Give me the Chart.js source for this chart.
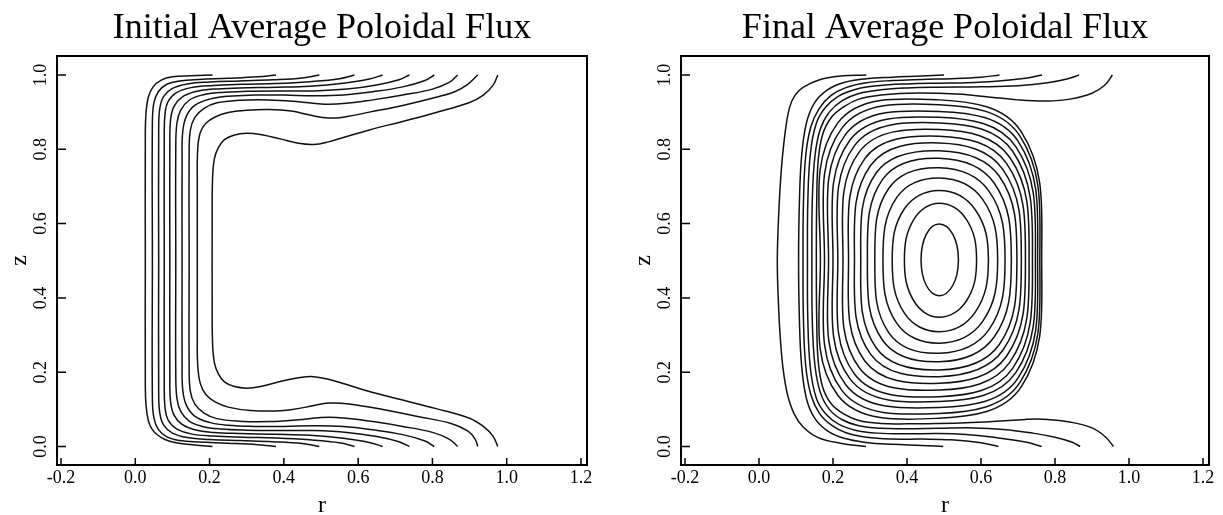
<!DOCTYPE html>
<html>
<head>
<meta charset="utf-8">
<script src="https://cdn.jsdelivr.net/npm/chart.js@4"></script>
<style>
  html, body { margin: 0; padding: 0; background: #fff; }
  #wrap { position: relative; width: 1223px; height: 515px; overflow: hidden; }
  canvas { position: absolute; top: 0; }
</style>
</head>
<body>
<div id="wrap">
  <canvas id="initial" width="612" height="515" style="left:0"></canvas>
  <canvas id="final" width="611" height="515" style="left:612px"></canvas>
</div>
<script>
// ---- axis ticks ----
const xTickValues = [-0.2, 0, 0.2, 0.4, 0.6, 0.8, 1.0, 1.2];
const xTickLabels = ['-0.2', '0.0', '0.2', '0.4', '0.6', '0.8', '1.0', '1.2'];
const yTickValues = [0, 0.2, 0.4, 0.6, 0.8, 1.0];
const yTickLabels = ['0.0', '0.2', '0.4', '0.6', '0.8', '1.0'];

// ---- initial flux: open contours, [r, z], from top wall round to bottom wall ----
const ini01 = [[.208,1],[.15,.998],[.10,.995],[.07,.986],[.048,.968],[.035,.94],[.029,.90],[.027,.84],[.027,.5],[.027,.16],[.029,.11],[.035,.07],[.045,.047],[.06,.031],[.08,.019],[.11,.01],[.16,.004],[.208,0]];
const ini02 = [[.379,1],[.33,.995],[.25,.991],[.17,.988],[.12,.984],[.085,.975],[.062,.955],[.05,.925],[.046,.87],[.046,.5],[.046,.13],[.05,.078],[.062,.046],[.085,.026],[.12,.016],[.17,.012],[.25,.009],[.33,.005],[.379,0]];
const ini03 = [[.4955,1],[.45,.992],[.37,.987],[.28,.984],[.20,.981],[.14,.976],[.10,.964],[.076,.942],[.066,.91],[.063,.86],[.063,.5],[.063,.14],[.066,.09],[.076,.058],[.10,.036],[.14,.024],[.20,.019],[.28,.016],[.37,.013],[.45,.008],[.4955,0]];
const ini04 = [[.59,1],[.55,.99],[.47,.982],[.38,.977],[.29,.975],[.21,.972],[.15,.966],[.11,.952],[.088,.928],[.080,.895],[.078,.84],[.078,.5],[.078,.16],[.080,.105],[.088,.072],[.11,.048],[.15,.034],[.21,.028],[.29,.025],[.38,.023],[.47,.018],[.55,.01],[.59,0]];
const ini05 = [[.666,1],[.63,.989],[.56,.978],[.47,.970],[.38,.967],[.28,.965],[.21,.962],[.16,.955],[.125,.940],[.104,.915],[.095,.88],[.093,.82],[.093,.5],[.093,.18],[.095,.12],[.104,.085],[.125,.06],[.16,.045],[.21,.038],[.28,.035],[.38,.033],[.47,.03],[.56,.022],[.63,.011],[.666,0]];
const ini06 = [[.738,1],[.71,.987],[.65,.973],[.57,.962],[.48,.957],[.40,.957],[.30,.956],[.23,.953],[.18,.946],[.145,.932],[.122,.905],[.112,.87],[.109,.80],[.109,.5],[.109,.20],[.112,.13],[.122,.095],[.145,.068],[.18,.054],[.23,.047],[.30,.044],[.40,.043],[.48,.043],[.57,.038],[.65,.027],[.71,.013],[.738,0]];
const ini07 = [[.805,1],[.78,.985],[.72,.968],[.64,.955],[.56,.946],[.48,.944],[.40,.946],[.32,.946],[.25,.943],[.20,.935],[.16,.918],[.138,.89],[.128,.85],[.126,.78],[.126,.5],[.126,.22],[.128,.15],[.138,.11],[.16,.082],[.20,.065],[.25,.057],[.32,.054],[.40,.054],[.48,.056],[.56,.054],[.64,.045],[.72,.032],[.78,.015],[.805,0]];
const ini08 = [[.868,1],[.845,.98],[.80,.962],[.72,.946],[.64,.933],[.56,.923],[.50,.922],[.44,.928],[.36,.933],[.28,.932],[.22,.925],[.185,.91],[.16,.885],[.148,.85],[.145,.78],[.145,.5],[.145,.22],[.148,.15],[.16,.115],[.185,.09],[.22,.075],[.28,.068],[.36,.067],[.44,.072],[.50,.078],[.56,.077],[.64,.067],[.72,.054],[.80,.038],[.845,.02],[.868,0]];
const ini09 = [[.922,1],[.895,.975],[.86,.955],[.81,.94],[.72,.918],[.63,.90],[.57,.888],[.52,.884],[.47,.892],[.42,.903],[.36,.907],[.30,.905],[.25,.899],[.215,.887],[.19,.87],[.175,.845],[.168,.80],[.167,.70],[.167,.5],[.167,.30],[.168,.22],[.175,.17],[.19,.14],[.215,.12],[.25,.106],[.31,.097],[.40,.097],[.46,.106],[.52,.117],[.58,.114],[.67,.099],[.76,.081],[.85,.062],[.895,.042],[.915,.02],[.922,0]];
const ini10 = [[.976,1],[.963,.972],[.937,.946],[.90,.926],[.81,.899],[.72,.875],[.63,.852],[.565,.833],[.52,.82],[.48,.813],[.44,.816],[.39,.828],[.34,.839],[.30,.843],[.265,.838],[.24,.826],[.224,.805],[.213,.775],[.208,.72],[.207,.6],[.207,.4],[.208,.28],[.213,.225],[.224,.195],[.24,.174],[.265,.162],[.30,.157],[.34,.162],[.39,.175],[.44,.185],[.48,.188],[.52,.181],[.565,.168],[.63,.148],[.72,.125],[.81,.102],[.90,.076],[.937,.054],[.963,.028],[.976,0]];

// ---- final flux: open contours reaching the end walls ----
const finOpen1 = [[.29,1],[.22,.997],[.16,.986],[.12,.967],[.097,.945],[.082,.91],[.07,.84],[.06,.74],[.053,.62],[.0495,.5],[.052,.40],[.057,.30],[.065,.21],[.077,.14],[.095,.088],[.12,.052],[.16,.024],[.22,.009],[.289,0]];
const finOpen2 = [[.50,1],[.44,.997],[.36,.994],[.29,.990],[.23,.980],[.185,.960],[.15,.925],[.128,.87],[.115,.78],[.109,.65],[.107,.5],[.109,.35],[.115,.22],[.128,.13],[.15,.077],[.185,.042],[.23,.022],[.29,.011],[.36,.006],[.44,.003],[.498,0]];
const finOpen3 = [[.65,1],[.60,.994],[.52,.990],[.44,.988],[.36,.985],[.29,.979],[.235,.966],[.195,.945],[.163,.91],[.14,.86],[.126,.78],[.120,.65],[.119,.5],[.120,.35],[.126,.22],[.14,.14],[.163,.09],[.195,.058],[.235,.037],[.29,.025],[.36,.02],[.44,.02],[.52,.018],[.60,.01],[.647,0]];
const finOpen4 = [[.765,1],[.72,.991],[.64,.983],[.56,.979],[.485,.978],[.40,.976],[.32,.971],[.26,.961],[.215,.943],[.18,.913],[.155,.87],[.139,.79],[.132,.66],[.131,.5],[.132,.34],[.139,.21],[.155,.13],[.18,.088],[.215,.06],[.26,.044],[.32,.036],[.40,.034],[.485,.035],[.56,.032],[.64,.024],[.72,.012],[.764,0]];
const finOpen5 = [[.865,1],[.835,.99],[.78,.979],[.70,.971],[.60,.968],[.485,.967],[.40,.965],[.33,.960],[.27,.950],[.225,.931],[.19,.90],[.166,.855],[.151,.78],[.144,.66],[.143,.5],[.144,.34],[.151,.22],[.166,.145],[.19,.10],[.225,.072],[.27,.056],[.33,.049],[.40,.048],[.485,.049],[.58,.050],[.66,.046],[.74,.036],[.80,.025],[.845,.012],[.868,0]];
const finOpen6 = [[.955,1],[.935,.973],[.90,.951],[.84,.935],[.78,.930],[.70,.933],[.62,.941],[.55,.948],[.485,.951],[.40,.951],[.33,.946],[.27,.935],[.23,.915],[.195,.885],[.172,.84],[.16,.77],[.156,.66],[.155,.5],[.156,.34],[.16,.23],[.172,.16],[.195,.115],[.23,.087],[.27,.07],[.33,.062],[.40,.061],[.485,.062],[.56,.064],[.64,.068],[.72,.073],[.78,.073],[.84,.066],[.90,.05],[.935,.027],[.958,0]];

// ---- final flux: closed contours round the O-point (top, top-right, right, ..., top-left) ----
const finRing01 = [[.487,.599],[.524,.571],[.539,.502],[.524,.434],[.487,.406],[.452,.434],[.438,.502],[.452,.571]];
const finRing02 = [[.487,.655],[.560,.612],[.588,.502],[.560,.391],[.487,.348],[.419,.391],[.393,.502],[.419,.612]];
const finRing03 = [[.487,.689],[.584,.638],[.620,.502],[.584,.361],[.487,.309],[.393,.359],[.360,.502],[.393,.640]];
const finRing04 = [[.487,.723],[.604,.666],[.645,.502],[.604,.336],[.487,.278],[.372,.332],[.335,.502],[.372,.670]];
const finRing05 = [[.487,.750],[.621,.688],[.665,.502],[.621,.314],[.487,.251],[.351,.306],[.313,.502],[.351,.695]];
const finRing06 = [[.487,.776],[.635,.710],[.682,.502],[.635,.294],[.487,.228],[.334,.286],[.293,.502],[.334,.719]];
const finRing07 = [[.487,.796],[.649,.728],[.697,.502],[.649,.274],[.487,.206],[.317,.265],[.275,.502],[.317,.737]];
const finRing08 = [[.487,.817],[.659,.746],[.709,.502],[.659,.259],[.487,.188],[.302,.248],[.258,.502],[.302,.757]];
const finRing09 = [[.487,.835],[.669,.762],[.720,.502],[.669,.243],[.487,.170],[.286,.230],[.242,.502],[.286,.775]];
const finRing10 = [[.487,.853],[.678,.778],[.730,.502],[.678,.227],[.487,.152],[.271,.212],[.227,.502],[.271,.793]];
const finRing11 = [[.487,.871],[.686,.794],[.739,.502],[.686,.211],[.487,.134],[.258,.195],[.213,.502],[.258,.810]];
const finRing12 = [[.487,.886],[.694,.807],[.747,.502],[.694,.199],[.487,.121],[.246,.182],[.200,.502],[.246,.825]];
const finRing13 = [[.487,.902],[.700,.822],[.753,.502],[.700,.184],[.487,.105],[.234,.167],[.188,.502],[.234,.840]];
const finRing14 = [[.487,.920],[.705,.836],[.759,.502],[.705,.172],[.487,.089],[.224,.151],[.177,.502],[.224,.857]];
const finRing15 = [[.487,.933],[.709,.847],[.764,.502],[.709,.161],[.487,.076],[.213,.138],[.166,.502],[.213,.871]];

const initialOpen = [ini01, ini02, ini03, ini04, ini05, ini06, ini07, ini08, ini09, ini10];
const finalOpen = [finOpen1, finOpen2, finOpen3, finOpen4, finOpen5, finOpen6];
const finalRings = [finRing01, finRing02, finRing03, finRing04, finRing05, finRing06, finRing07, finRing08,
                    finRing09, finRing10, finRing11, finRing12, finRing13, finRing14, finRing15];

const INK = '#111';
const SERIF = "'Liberation Serif', 'DejaVu Serif', serif";

function openSet(pts) {
  return {
    data: pts.map(([x, y]) => ({ x, y })),
    showLine: true, borderColor: INK, borderWidth: 1.5,
    pointRadius: 0, tension: 0.4, fill: false
  };
}

// A ring is padded with one point on each side so every visible piece
// gets smooth neighbours; the two padding pieces are drawn transparent.
function ringSet(pts) {
  const n = pts.length;
  const padded = [pts[n - 1], ...pts, pts[0], pts[1]];
  const last = padded.length - 1;
  return {
    data: padded.map(([x, y]) => ({ x, y })),
    showLine: true, borderColor: INK, borderWidth: 1.5,
    pointRadius: 0, tension: 0.4, fill: false,
    segment: {
      borderColor: c => (c.p0DataIndex === 0 || c.p1DataIndex === last) ? 'rgba(0,0,0,0)' : INK
    }
  };
}

// Frame round the plot area and inward tick marks
const frameTicks = {
  id: 'frameTicks',
  afterDraw(chart) {
    const { ctx, chartArea: a, scales: { x, y } } = chart;
    ctx.save();
    ctx.strokeStyle = '#000';
    ctx.lineWidth = 1.5;
    ctx.beginPath();
    xTickValues.forEach(v => {
      const px = x.getPixelForValue(v);
      ctx.moveTo(px, a.bottom); ctx.lineTo(px, a.bottom - 7);
    });
    yTickValues.forEach(v => {
      const py = y.getPixelForValue(v);
      ctx.moveTo(a.left, py); ctx.lineTo(a.left + 9, py);
    });
    ctx.stroke();
    ctx.lineWidth = 2;
    ctx.strokeRect(a.left, a.top, a.right - a.left, a.bottom - a.top);
    ctx.restore();
  }
};

function makeChart(id, title, datasets, padLeft, padRight) {
  return new Chart(document.getElementById(id), {
    type: 'scatter',
    data: { datasets },
    options: {
      responsive: false, animation: false, devicePixelRatio: 1,
      layout: { padding: { left: padLeft, right: padRight, top: 0, bottom: 0 } },
      plugins: {
        legend: { display: false }, tooltip: { enabled: false },
        title: {
          display: true, text: title, color: '#000', fullSize: false,
          font: { family: SERIF, size: 36, weight: 'normal', lineHeight: 1.2 },
          padding: { top: 6.9, bottom: 5.9 }
        }
      },
      scales: {
        x: {
          type: 'linear', min: -0.2108, max: 1.2162,
          grid: { display: false, drawTicks: false }, border: { display: false },
          afterBuildTicks: s => { s.ticks = xTickValues.map(v => ({ value: v })); },
          afterFit: s => { s.height = 50; },
          ticks: {
            autoSkip: false, maxRotation: 0, minRotation: 0, padding: 2.5, color: '#000',
            font: { family: SERIF, size: 18, lineHeight: 1.2 },
            callback: (v, i) => xTickLabels[i]
          },
          title: {
            display: true, text: 'r', color: '#000',
            font: { family: SERIF, size: 24, lineHeight: 0.75 },
            padding: { top: 0, bottom: 0 }
          }
        },
        y: {
          type: 'linear', min: -0.0498, max: 1.0511,
          grid: { display: false, drawTicks: false }, border: { display: false },
          afterBuildTicks: s => { s.ticks = yTickValues.map(v => ({ value: v })); },
          afterFit: s => { s.width = 57; },
          ticks: {
            autoSkip: false, minRotation: 90, maxRotation: 90, crossAlign: 'center',
            padding: 4.25, color: '#000',
            font: { family: SERIF, size: 18, lineHeight: 1.2 },
            callback: (v, i) => yTickLabels[i]
          },
          title: {
            display: true, text: 'z', color: '#000',
            font: { family: SERIF, size: 24, lineHeight: 0.75 },
            padding: { top: 10.5, bottom: 0 }
          }
        }
      }
    },
    plugins: [frameTicks]
  });
}

makeChart('initial', 'Initial Average Poloidal Flux', initialOpen.map(openSet), 0, 25);
makeChart('final', 'Final Average Poloidal Flux',
  [...finalOpen.map(openSet), ...finalRings.map(ringSet)], 12, 14);
</script>
</body>
</html>
